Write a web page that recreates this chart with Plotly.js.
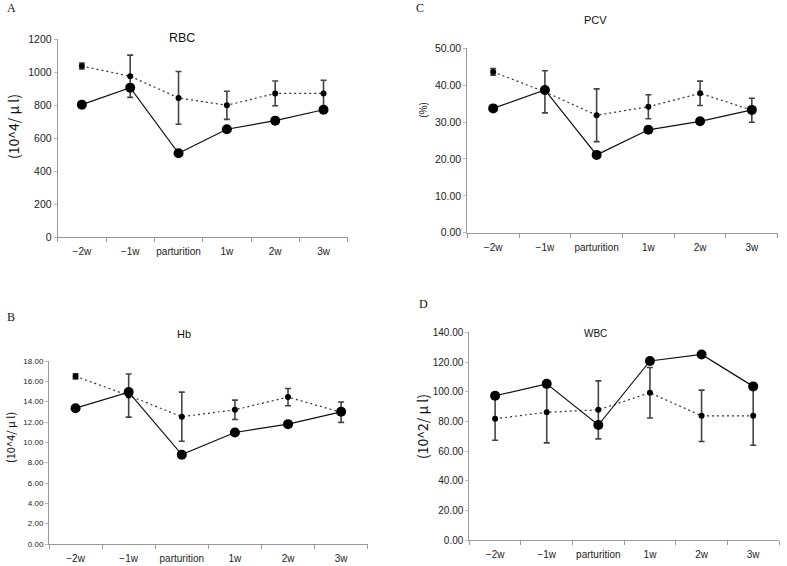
<!DOCTYPE html>
<html>
<head>
<meta charset="utf-8">
<script src="https://cdn.plot.ly/plotly-3.0.1.min.js"></script>
<style>html,body{margin:0;padding:0;background:#fff;}#chart{width:787px;height:566px;}</style>
</head>
<body>
<div id="chart"></div>
<script>
// Categories (time points)
const categories = ['\u22122w', '\u22121w', 'parturition', '1w', '2w', '3w'];

// A: RBC (10^4/µl)
const rbcSolid = [804, 907, 509, 655, 707, 773];
const rbcDotted = [1038, 976, 845, 800, 872, 872];
const rbcDottedErr = [18, 128, 160, 85, 75, 80];

// B: Hb
const hbSolid = [13.36, 14.94, 8.79, 10.97, 11.79, 13.0];
const hbDotted = [16.49, 14.6, 12.52, 13.2, 14.45, 12.96];
const hbDottedErr = [0.25, 2.12, 2.42, 0.95, 0.85, 1.0];

// C: PCV (%)
const pcvSolid = [33.7, 38.7, 21.1, 27.9, 30.2, 33.3];
const pcvDotted = [43.6, 38.2, 31.85, 34.15, 37.8, 33.2];
const pcvDottedErr = [0.9, 5.7, 7.15, 3.25, 3.3, 3.25];

// D: WBC (10^2/µl)
const wbcSolid = [97.3, 105.3, 77.6, 120.7, 125.1, 103.6];
const wbcDotted = [81.8, 86.2, 87.8, 99.3, 83.8, 83.8];
const wbcDottedErr = [14.5, 20.6, 19.5, 17, 17.3, 19.8];

const W = 787, H = 566;
const txtFont = 'Arial, "Liberation Sans", sans-serif';

function pair(xa, ya, solid, dotted, err) {
  return [
    {
      type: 'scatter', mode: 'lines+markers', x: categories, y: dotted,
      xaxis: xa, yaxis: ya,
      line: {color: '#333', width: 1.2, dash: '2px,3px'},
      marker: {color: '#000', size: 6},
      error_y: {type: 'data', array: err, visible: true, color: '#444', thickness: 1.6, width: 3},
      showlegend: false, hoverinfo: 'skip'
    },
    {
      type: 'scatter', mode: 'lines+markers', x: categories, y: solid,
      xaxis: xa, yaxis: ya,
      line: {color: '#111', width: 1.2},
      marker: {color: '#000', size: 10},
      showlegend: false, hoverinfo: 'skip'
    }
  ];
}

const data = [].concat(
  pair('x', 'y', rbcSolid, rbcDotted, rbcDottedErr),
  pair('x2', 'y2', pcvSolid, pcvDotted, pcvDottedErr),
  pair('x3', 'y3', hbSolid, hbDotted, hbDottedErr),
  pair('x4', 'y4', wbcSolid, wbcDotted, wbcDottedErr)
);

function xax(x0, x1, anchor, fs) {
  return {
    domain: [x0 / W, x1 / W], anchor: anchor, type: 'category', range: [-0.5, 5.5],
    tickson: 'boundaries', ticks: 'outside', ticklen: 4, tickcolor: '#999',
    tickangle: 0, automargin: false, ticklabelstandoff: 5,
    showline: true, linecolor: '#999', linewidth: 1, showgrid: false, zeroline: false,
    tickfont: {family: txtFont, size: fs, color: '#222'}, fixedrange: true
  };
}
function yax(top, bottom, anchor, range, dtick, fmt, fs) {
  return {
    domain: [1 - bottom / H, 1 - top / H], anchor: anchor, range: range, dtick: dtick,
    tickformat: fmt, ticks: 'outside', ticklen: 3, tickcolor: '#bbb', automargin: false,
    showline: true, linecolor: '#999', linewidth: 1, showgrid: false, zeroline: false,
    tickfont: {family: txtFont, size: fs, color: '#222'}, fixedrange: true
  };
}

const ann = (x, y, text, size, family, extra) => Object.assign({
  x: x / W, y: 1 - y / H, xref: 'paper', yref: 'paper', text: text, showarrow: false,
  font: {family: family || txtFont, size: size, color: '#111'}, xanchor: 'center', yanchor: 'middle'
}, extra || {});

const serif = '"Liberation Serif", "DejaVu Serif", serif';
const cjk = '"Noto Sans CJK JP", Arial, sans-serif';

const layout = {
  width: W, height: H, margin: {l: 0, r: 0, t: 0, b: 0},
  paper_bgcolor: '#fff', plot_bgcolor: '#fff', showlegend: false,
  xaxis: xax(57.7, 347.7, 'y', 10),
  yaxis: yax(39.3, 237.3, 'x', [0, 1200], 200, 'd', 10.5),
  xaxis2: xax(467.3, 777.7, 'y2', 10),
  yaxis2: yax(48.3, 232.7, 'x2', [0, 50], 10, '.2f', 10.5),
  xaxis3: xax(49, 367.7, 'y3', 10),
  yaxis3: yax(361, 544, 'x3', [0, 18], 2, '.2f', 8),
  xaxis4: xax(469.3, 779, 'y4', 10),
  yaxis4: yax(332.3, 540.3, 'x4', [0, 140], 20, '.2f', 10),
  annotations: [
    ann(11, 8, 'A', 12, serif),
    ann(420, 8, 'C', 12, serif),
    ann(11, 317, 'B', 12, serif),
    ann(423, 304, 'D', 12, serif),
    ann(182, 38, 'RBC', 12.5),
    ann(595, 20, 'PCV', 11),
    ann(184, 334, 'Hb', 11),
    ann(595, 333, 'WBC', 10),
    ann(13, 127, '(10^4/ \u03bc l)', 14, cjk, {textangle: -90}),
    ann(422, 110, '(%)', 10, cjk, {textangle: -90}),
    ann(10, 438, '(10^4/ \u03bc l)', 11, cjk, {textangle: -90}),
    ann(422, 427, '(10^2/ \u03bc l)', 14, cjk, {textangle: -90})
  ]
};

Plotly.newPlot('chart', data, layout, {displayModeBar: false, staticPlot: true});
</script>
</body>
</html>
